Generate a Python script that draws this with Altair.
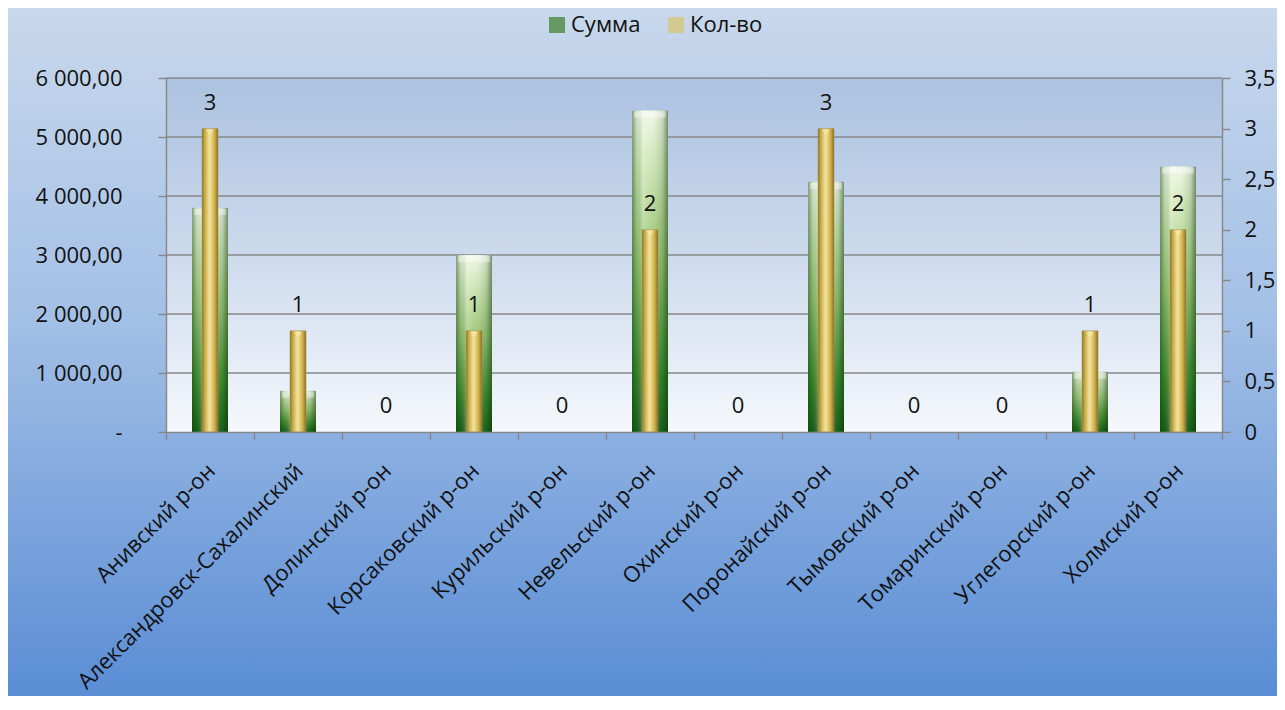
import json
import altair as alt
import pandas as pd

# ---------------- data ----------------
categories = ["Анивский р-он", "Александровск-Сахалинский", "Долинский р-он",
              "Корсаковский р-он", "Курильский р-он", "Невельский р-он",
              "Охинский р-он", "Поронайский р-он", "Тымовский р-он",
              "Томаринский р-он", "Углегорский р-он", "Холмский р-он"]
summa = [3800, 700, 0, 3000, 0, 5450, 0, 4240, 0, 0, 1020, 4500]
kolvo = [3, 1, 0, 1, 0, 2, 0, 3, 0, 0, 1, 2]
series_names = ["Сумма", "Кол-во"]

left_ticks = [0, 1000, 2000, 3000, 4000, 5000, 6000]
left_tick_labels = ["-\u00a0\u00a0\u00a0\u00a0", "1 000,00", "2 000,00", "3 000,00",
                    "4 000,00", "5 000,00", "6 000,00"]
right_ticks = [0, 0.5, 1, 1.5, 2, 2.5, 3, 3.5]
right_tick_labels = ["0", "0,5", "1", "1,5", "2", "2,5", "3", "3,5"]

df = pd.DataFrame({"region": categories, "summa": summa, "kolvo": kolvo})
grid_df = pd.DataFrame({"summa": left_ticks[1:]})
one = pd.DataFrame({"a": [0]})
legend_df = pd.DataFrame({"s": series_names})

# ---------------- layout ----------------
W, H = 1056, 354
PAD_L, PAD_T, PAD_R, PAD_B = 158, 70, 55, 264
FONT = "Open Sans"
FS = 22
AXIS_GREY = "#878787"

def grad(stops, horizontal=False):
    return alt.LinearGradient(
        gradient="linear",
        stops=[alt.GradientStop(color=c, offset=o) for o, c in stops],
        x1=0, y1=0, x2=1 if horizontal else 0, y2=0 if horizontal else 1)

X = alt.X("region:N", sort=categories, title=None,
          scale=alt.Scale(paddingInner=0, paddingOuter=0),
          axis=alt.Axis(labelAngle=-45, labelAlign="right", labelBaseline="top",
                        labelPadding=20, labelOffset=-6, tickBand="extent", tickSize=8,
                        domainColor=AXIS_GREY, tickColor=AXIS_GREY,
                        domainWidth=1.4, tickWidth=1.4, zindex=1,
                        labelFont=FONT, labelFontSize=FS, labelColor="#111",
                        labelOverlap=False, labelLimit=0))

Y_left = alt.Y("summa:Q", title=None,
               scale=alt.Scale(domain=[0, 6000], nice=False, zero=True),
               axis=alt.Axis(values=left_ticks, grid=False, tickSize=8,
                             labelPadding=36, domainColor=AXIS_GREY,
                             tickColor=AXIS_GREY, domainWidth=1.4, tickWidth=1.4,
                             labelExpr=json.dumps(left_tick_labels, ensure_ascii=False)
                             + "[round(datum.value/1000)]",
                             zindex=1, labelFont=FONT, labelFontSize=FS,
                             labelColor="#111"))

Y_right = alt.Y("kolvo:Q", title=None,
                scale=alt.Scale(domain=[0, 3.5], nice=False, zero=True),
                axis=alt.Axis(orient="right", values=right_ticks, grid=False,
                              tickSize=8, labelPadding=14, domainColor=AXIS_GREY,
                              tickColor=AXIS_GREY, domainWidth=1.4, tickWidth=1.4,
                              labelExpr=json.dumps(right_tick_labels, ensure_ascii=False)
                              + "[round(datum.value*2)]",
                              zindex=1, labelFont=FONT, labelFontSize=FS,
                              labelColor="#111"))

# ---------------- layers ----------------
page_bg = alt.Chart(one).mark_rect(
    color=grad([(0, "#c8d8ec"), (0.45, "#a3c0e6"), (1, "#5a8dd5")])
).encode(x=alt.value(-PAD_L), x2=alt.value(W + PAD_R),
         y=alt.value(-PAD_T), y2=alt.value(H + PAD_B))

plot_bg = alt.Chart(one).mark_rect(
    color=grad([(0, "#abc2e0"), (0.5, "#cddaed"), (1, "#f5f8fc")])
).encode(x=alt.value(0), x2=alt.value(W), y=alt.value(0), y2=alt.value(H))

grid = alt.Chart(grid_df).mark_rule(color=AXIS_GREY, strokeWidth=1.4).encode(
    y=Y_left, x=alt.value(0), x2=alt.value(W))

green = alt.Chart(df).mark_bar(
    size=36,
    color=grad([(0, "#eef7e4"), (0.12, "#d6eac0"), (0.45, "#98c474"),
                (0.8, "#3f8c2e"), (1, "#1b661b")])
).encode(x=X, y=Y_left)

green_shade = alt.Chart(df).mark_bar(
    size=36,
    color=grad([(0, "rgba(0,50,0,0.45)"), (0.14, "rgba(0,50,0,0.1)"),
                (0.3, "rgba(255,255,255,0.25)"), (0.55, "rgba(255,255,255,0.05)"),
                (0.85, "rgba(0,40,0,0.15)"), (1, "rgba(0,40,0,0.5)")],
               horizontal=True)
).encode(x=X, y=Y_left)

green_cap = alt.Chart(df).transform_filter("datum.summa > 0").mark_tick(
    size=32, thickness=6, yOffset=4, color="rgba(255,255,255,0.55)"
).encode(x=X, y=Y_left)

gold = alt.Chart(df).transform_filter("datum.kolvo > 0").mark_bar(
    size=16, stroke="#a69457", strokeWidth=0.6,
    color=grad([(0, "#8c762a"), (0.18, "#c8ab45"), (0.45, "#f2e2a0"),
                (0.62, "#e6cf78"), (0.85, "#c09f3c"), (1, "#7f6a24")],
               horizontal=True)
).encode(x=X, y=Y_right)

gold_cap = alt.Chart(df).transform_filter("datum.kolvo > 0").mark_point(
    shape="triangle-down", size=55, filled=True, yOffset=4,
    color="#f4e6a6", opacity=0.9
).encode(x=X, y=Y_right)

labels = alt.Chart(df).mark_text(
    dy=-19, baseline="alphabetic", align="center", font=FONT, fontSize=FS,
    color="#111"
).encode(x=X, y=Y_right, text=alt.Text("kolvo:Q"))

legend_layer = alt.Chart(legend_df).mark_square(size=10).encode(
    x=alt.value(-3000), y=alt.value(-3000),
    color=alt.Color("s:N", title=None,
                    scale=alt.Scale(domain=series_names, range=["#3f7f2c", "#d8c46c"]),
                    legend=alt.Legend(orient="none", direction="horizontal",
                                      legendX=380, legendY=-64,
                                      symbolType="square", symbolSize=256,
                                      symbolStrokeWidth=0, labelFont=FONT,
                                      labelFontSize=FS, labelColor="#111",
                                      labelOffset=3, columnPadding=24,
                                      padding=0, zindex=1)))

left_layer = alt.layer(page_bg, plot_bg, grid, green, green_shade, green_cap)
right_layer = alt.layer(gold, gold_cap, labels, legend_layer)

chart = alt.layer(left_layer, right_layer).resolve_scale(
    y="independent"
).properties(
    width=W, height=H,
    padding={"left": PAD_L, "top": PAD_T, "right": PAD_R, "bottom": PAD_B},
    autosize=alt.AutoSizeParams(type="none"),
    background="#c0d3ea",
).configure_view(stroke=None)

chart.save("out.html", embed_options={"renderer": "svg", "actions": False})
